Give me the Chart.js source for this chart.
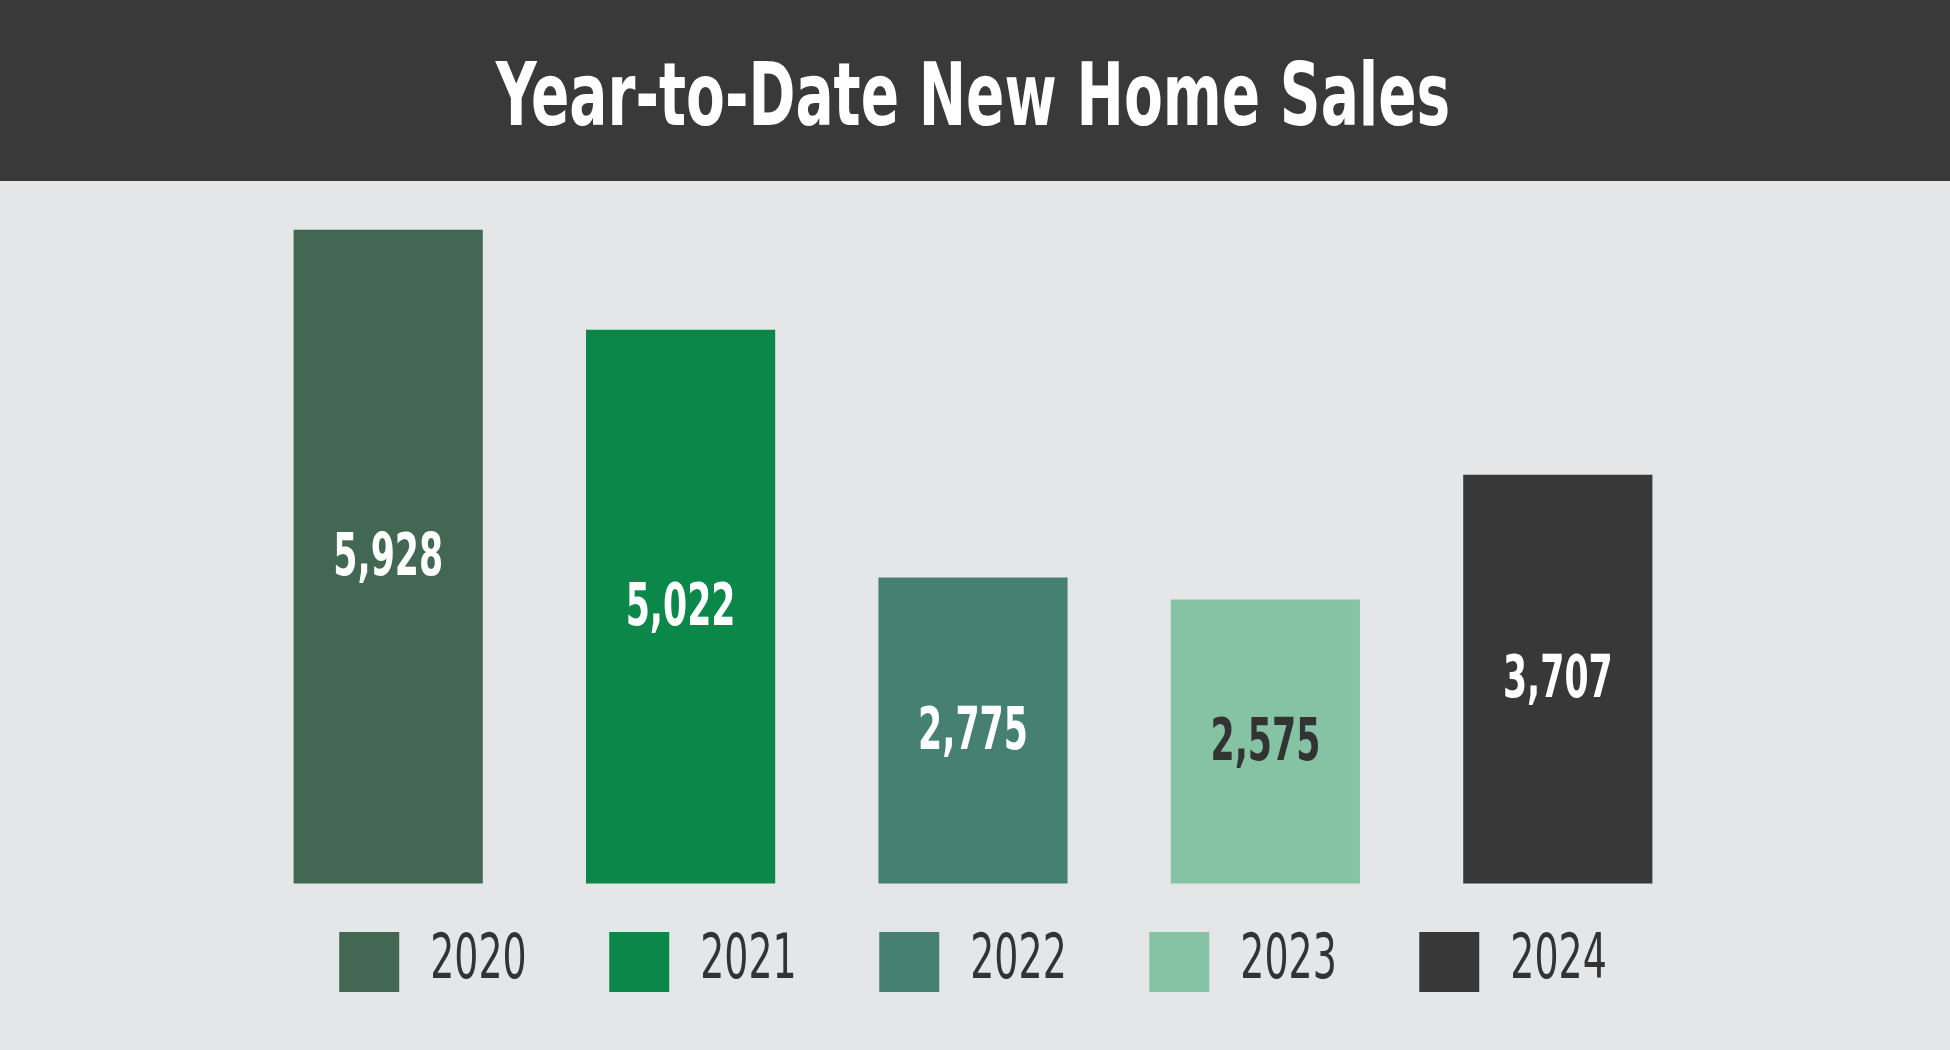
<!DOCTYPE html>
<html>
<head>
<meta charset="utf-8">
<style>
  html, body { margin: 0; padding: 0; background: #e5e6e8; }
  #wrap { width: 1950px; height: 1050px; }
</style>
<script src="https://cdn.jsdelivr.net/npm/chart.js@4/dist/chart.umd.min.js"></script>
</head>
<body>
<div id="wrap"><canvas id="c" width="1950" height="1050"></canvas></div>
<script>
const TITLE = 'Year-to-Date New Home Sales';
const CATEGORIES = ['2020', '2021', '2022', '2023', '2024'];
const SALES = [5928, 5022, 2775, 2575, 3707];
const BAR_COLORS = ['#426854', '#0a8749', '#468073', '#86c3a5', '#383838'];
const LABEL_COLORS = ['#ffffff', '#ffffff', '#ffffff', '#333333', '#ffffff'];

const FONT = "'Liberation Sans Narrow', 'DejaVu Sans Condensed', 'Liberation Sans', sans-serif";
const BG = '#e5e6e8';
const HEADER = '#393939';
const TITLE_SIZE = 88, LABEL_SIZE = 58, LEGEND_SIZE = 62;

// The installed fonts are wider than the condensed face of the original,
// so text drawn on this canvas is narrowed horizontally (still real text).
const canvas = document.getElementById('c');
const ctx2d = canvas.getContext('2d');
const NARROWING = { [TITLE_SIZE]: 0.715, [LABEL_SIZE]: 0.665, [LEGEND_SIZE]: 0.68 };
function narrowFactor(c) {
  const m = /(\d+(?:\.\d+)?)px/.exec(c.font);
  const s = m ? Math.round(parseFloat(m[1])) : 0;
  return NARROWING[s] || 0.7;
}
const origFill = ctx2d.fillText.bind(ctx2d);
const origMeasure = ctx2d.measureText.bind(ctx2d);
ctx2d.fillText = function (text, x, y, maxWidth) {
  const sx = narrowFactor(ctx2d);
  ctx2d.save();
  ctx2d.translate(x, y);
  ctx2d.scale(sx, 1);
  if (maxWidth === undefined || maxWidth === null || isNaN(maxWidth)) origFill(text, 0, 0);
  else origFill(text, 0, 0, maxWidth / sx);
  ctx2d.restore();
};
ctx2d.measureText = function (text) {
  const sx = narrowFactor(ctx2d);
  const m = origMeasure(text);
  return {
    width: m.width * sx,
    actualBoundingBoxLeft: m.actualBoundingBoxLeft * sx,
    actualBoundingBoxRight: m.actualBoundingBoxRight * sx,
    actualBoundingBoxAscent: m.actualBoundingBoxAscent,
    actualBoundingBoxDescent: m.actualBoundingBoxDescent,
    fontBoundingBoxAscent: m.fontBoundingBoxAscent,
    fontBoundingBoxDescent: m.fontBoundingBoxDescent
  };
};

const headerPlugin = {
  id: 'header',
  beforeDraw(chart) {
    const ctx = chart.ctx;
    ctx.save();
    ctx.fillStyle = BG;
    ctx.fillRect(0, 0, chart.width, chart.height);
    ctx.fillStyle = HEADER;
    ctx.fillRect(0, 0, chart.width, 181);
    ctx.restore();
  }
};

const fmt = new Intl.NumberFormat('en-US');
const valueLabels = {
  id: 'valueLabels',
  afterDatasetsDraw(chart) {
    const ctx = chart.ctx;
    const meta = chart.getDatasetMeta(0);
    ctx.save();
    ctx.font = 'bold ' + LABEL_SIZE + 'px ' + FONT;
    ctx.textAlign = 'center';
    ctx.textBaseline = 'middle';
    meta.data.forEach((bar, i) => {
      const p = bar.getProps(['x', 'y', 'base'], true);
      ctx.fillStyle = LABEL_COLORS[i];
      ctx.fillText(fmt.format(SALES[i]), p.x, (p.y + p.base) / 2 + 3);
    });
    ctx.restore();
  }
};

new Chart(canvas, {
  type: 'bar',
  data: {
    labels: CATEGORIES,
    datasets: [{
      label: 'New Home Sales',
      data: SALES,
      backgroundColor: BAR_COLORS,
      borderWidth: 0,
      base: 0,
      clip: false,
      barPercentage: 0.647,
      categoryPercentage: 1.0
    }]
  },
  options: {
    responsive: false,
    animation: false,
    events: [],
    layout: { padding: { left: 242, right: 246, top: 0, bottom: 47 } },
    scales: {
      x: { display: false },
      y: { display: false, min: 317, max: 6202 }
    },
    plugins: {
      tooltip: { enabled: false },
      title: {
        display: true,
        text: TITLE,
        color: '#ffffff',
        font: { family: FONT, size: TITLE_SIZE, weight: 'bold', lineHeight: 1.2 },
        padding: { top: 49, bottom: 45 }
      },
      legend: {
        display: true,
        position: 'bottom',
        labels: {
          boxWidth: 60,
          boxHeight: 60,
          padding: 82.5,
          color: '#333333',
          font: { family: FONT, size: LEGEND_SIZE, weight: 'normal' },
          generateLabels() {
            return CATEGORIES.map((c, i) => ({
              text: c,
              fillStyle: BAR_COLORS[i],
              strokeStyle: BAR_COLORS[i],
              lineWidth: 0,
              fontColor: '#333333',
              hidden: false,
              index: i
            }));
          }
        }
      }
    }
  },
  plugins: [headerPlugin, valueLabels]
});
</script>
</body>
</html>
